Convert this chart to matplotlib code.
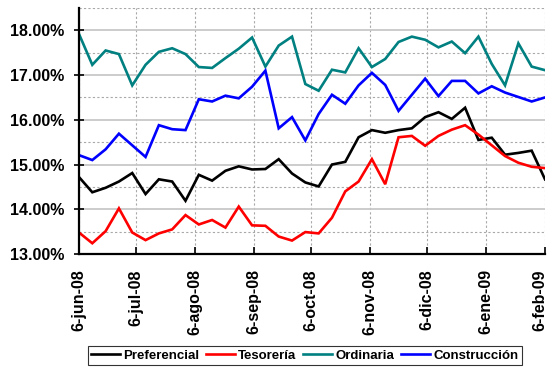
import pandas as pd
import matplotlib
matplotlib.use("Agg")
import matplotlib.pyplot as plt
import matplotlib.transforms as mtransforms
from matplotlib.ticker import MultipleLocator, FuncFormatter

plt.rcParams['font.family'] = ['Liberation Sans', 'DejaVu Sans']
plt.rcParams['font.weight'] = 'bold'

# weekly rates (%), every Friday from 6-jun-08 to 6-feb-09
fechas = pd.date_range('2008-06-06', periods=36, freq='7D')

preferencial = [14.72, 14.38, 14.48, 14.62, 14.81, 14.34, 14.67, 14.62, 14.19, 14.77,
                14.64, 14.86, 14.96, 14.89, 14.90, 15.12, 14.80, 14.60, 14.51, 15.00,
                15.06, 15.61, 15.77, 15.71, 15.77, 15.81, 16.06, 16.17, 16.02, 16.27,
                15.55, 15.60, 15.22, 15.26, 15.31, 14.67]
tesoreria = [13.48, 13.24, 13.51, 14.02, 13.48, 13.31, 13.46, 13.55, 13.87, 13.66,
             13.76, 13.59, 14.06, 13.64, 13.63, 13.39, 13.30, 13.49, 13.46, 13.81,
             14.40, 14.62, 15.12, 14.56, 15.61, 15.64, 15.42, 15.64, 15.78, 15.88,
             15.67, 15.43, 15.19, 15.04, 14.95, 14.92]
ordinaria = [17.92, 17.23, 17.55, 17.47, 16.77, 17.23, 17.52, 17.60, 17.47, 17.18,
             17.16, 17.38, 17.59, 17.84, 17.19, 17.66, 17.86, 16.80, 16.65, 17.12,
             17.06, 17.60, 17.18, 17.36, 17.74, 17.86, 17.79, 17.62, 17.75, 17.49,
             17.86, 17.25, 16.77, 17.71, 17.19, 17.11]
construccion = [15.21, 15.10, 15.34, 15.69, 15.43, 15.17, 15.88, 15.79, 15.77, 16.46,
                16.41, 16.54, 16.48, 16.74, 17.10, 15.81, 16.06, 15.54, 16.13, 16.56,
                16.36, 16.77, 17.05, 16.78, 16.20, 16.56, 16.92, 16.53, 16.87, 16.87,
                16.59, 16.75, 16.61, 16.51, 16.41, 16.50]

series = [("Preferencial", preferencial, "#000000"),
          ("Tesorería", tesoreria, "#FF0000"),
          ("Ordinaria", ordinaria, "#008080"),
          ("Construcción", construccion, "#0000FF")]

tick_fechas = pd.date_range('2008-06-06', periods=9, freq=pd.DateOffset(months=1))
tick_labels = ["6-jun-08", "6-jul-08", "6-ago-08", "6-sep-08", "6-oct-08",
               "6-nov-08", "6-dic-08", "6-ene-09", "6-feb-09"]

fig = plt.figure(figsize=(5.5, 3.69), dpi=100)
ax = fig.add_axes([0.1436, 0.3117, 0.9909 - 0.1436, 0.9783 - 0.3117])

for nombre, valores, color in series:
    ax.plot(fechas, valores, color=color, lw=1.9, label=nombre, solid_joinstyle='miter')

ax.set_ylim(13, 18.5)
ax.set_xlim(fechas[0], fechas[-1])
ax.yaxis.set_major_locator(MultipleLocator(1))
ax.yaxis.set_minor_locator(MultipleLocator(0.5))
ax.yaxis.set_major_formatter(FuncFormatter(lambda v, p: f"{v:.2f}%"))
ax.set_xticks(tick_fechas)
ax.set_xticklabels(tick_labels, rotation=90, va='top', ha='center')

ax.grid(axis='y', which='major', color='#C8C8C8', lw=1.3, ls='-')
ax.grid(axis='y', which='minor', color='#A8A8A8', lw=0.8, ls=(0, (2, 2)))
ax.grid(axis='x', which='major', color='#A8A8A8', lw=0.8, ls=(0, (2, 2)))
ax.set_axisbelow(True)

for s in ['top', 'right']:
    ax.spines[s].set_visible(False)
for s in ['left', 'bottom']:
    ax.spines[s].set_linewidth(1.6)

ax.tick_params(axis='y', which='major', direction='inout', length=7, width=1.2,
               labelsize=11.5, pad=7)
ax.tick_params(axis='y', which='minor', length=0)
ax.tick_params(axis='x', direction='in', length=5, width=1.2, labelsize=11.5, pad=11)
for lbl in ax.get_xticklabels() + ax.get_yticklabels():
    lbl.set_fontweight('bold')

# keep the last date label inside the canvas
ultimo = ax.get_xticklabels()[-1]
ultimo.set_transform(ultimo.get_transform() +
                     mtransforms.ScaledTranslation(-4 / 72, 0, fig.dpi_scale_trans))

leg = fig.legend(loc='center', bbox_to_anchor=(0.554, 0.0366), ncol=4,
                 frameon=True, fancybox=False, handlelength=2.2,
                 handletextpad=0.25, columnspacing=0.5, borderpad=0.25,
                 prop={'weight': 'bold', 'size': 9.5})
leg.get_frame().set_edgecolor('black')
leg.get_frame().set_linewidth(0.8)

fig.savefig("out.png", dpi=100)
